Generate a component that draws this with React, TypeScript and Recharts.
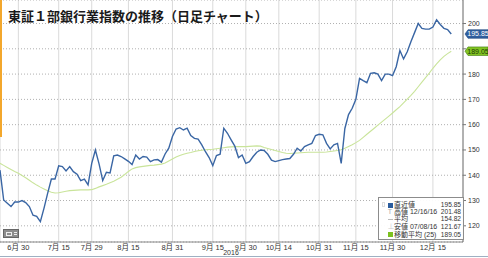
import React from 'react';
import { ComposedChart, Line, XAxis, YAxis, CartesianGrid, ReferenceLine } from 'recharts';

const dates: string[] = [
  '06/23', '06/24', '06/27', '06/28', '06/29', '06/30',
  '07/01', '07/04', '07/05', '07/06', '07/07', '07/08', '07/11', '07/12', '07/13', '07/14', '07/15',
  '07/19', '07/20', '07/21', '07/22', '07/25', '07/26', '07/27', '07/28', '07/29',
  '08/01', '08/02', '08/03', '08/04', '08/05', '08/08', '08/09', '08/10', '08/12', '08/15',
  '08/16', '08/17', '08/18', '08/19', '08/22', '08/23', '08/24', '08/25', '08/26', '08/29', '08/30', '08/31',
  '09/01', '09/02', '09/05', '09/06', '09/07', '09/08', '09/09', '09/12', '09/13', '09/14', '09/15',
  '09/16', '09/20', '09/21', '09/23', '09/26', '09/27', '09/28', '09/29', '09/30',
  '10/03', '10/04', '10/05', '10/06', '10/07', '10/11', '10/12', '10/13', '10/14',
  '10/17', '10/18', '10/19', '10/20', '10/21', '10/24', '10/25', '10/26', '10/27', '10/28', '10/31',
  '11/01', '11/02', '11/04', '11/07', '11/08', '11/09', '11/10', '11/11', '11/14', '11/15',
  '11/16', '11/17', '11/18', '11/21', '11/22', '11/24', '11/25', '11/28', '11/29', '11/30',
  '12/01', '12/02', '12/05', '12/06', '12/07', '12/08', '12/09', '12/12', '12/13', '12/14', '12/15',
  '12/16', '12/19', '12/20', '12/21', '12/22',
];

const closeValues: number[] = [
  142.0, 130.2, 128.9, 127.6, 129.4, 129.4,
  130.0, 129.2, 127.6, 124.2, 123.7, 121.67, 127.0, 132.9, 138.5, 138.5, 143.7,
  143.4, 141.7, 143.4, 141.4, 140.4, 137.9, 138.5, 136.2, 144.7,
  150.0, 144.5, 137.9, 141.2, 140.9, 147.7, 148.0, 147.4, 146.5, 145.5,
  144.2, 148.0, 146.4, 147.4, 147.2, 145.4, 146.1, 146.2, 145.2, 148.4, 150.7, 155.3,
  158.3, 158.8, 157.9, 158.6, 155.7, 154.6, 154.3, 152.0, 149.3, 147.0, 143.8,
  147.8, 148.3, 158.6, 156.6, 154.0, 151.5, 147.0, 148.0, 144.7,
  145.4, 147.4, 149.1, 150.0, 149.8, 148.3, 146.0, 145.4, 145.8,
  146.2, 146.4, 146.6, 148.3, 150.7, 149.6, 151.3, 152.0, 152.6, 155.7, 156.2,
  156.0, 152.6, 150.4, 152.0, 152.6, 144.7, 158.5, 164.0, 166.5, 170.0,
  178.3, 177.4, 176.6, 180.3, 180.5, 180.0, 177.4, 180.0, 180.0, 179.4,
  182.9, 189.3, 186.0, 188.8, 192.8, 196.4, 200.0, 198.1, 197.8, 197.8, 198.6,
  201.48, 199.6, 198.1, 197.6, 195.85,
];

const ma25Values: number[] = [
  144.7, 143.9, 143.1, 142.3, 141.5, 140.8,
  139.9, 139.0, 138.0, 137.0, 136.1, 135.3, 134.6, 133.9, 133.3, 133.0, 133.1,
  133.4, 133.7, 133.9, 134.0, 134.1, 134.2, 134.2, 134.2, 134.3,
  134.8, 135.4, 135.9, 136.4, 137.0, 137.6, 138.4, 139.2, 140.3, 141.5,
  142.5, 143.0, 143.3, 143.5, 143.7, 143.9, 144.0, 144.2, 144.4, 144.8, 145.6, 146.4,
  147.2, 147.8, 148.3, 148.7, 149.0, 149.4, 149.7, 149.9, 150.1, 150.2, 150.3,
  150.5, 150.7, 150.9, 151.1, 151.2, 151.3, 151.3, 151.3, 151.3,
  151.4, 151.5, 151.6, 151.5, 151.0, 150.6, 150.2, 149.8, 149.4,
  149.0, 148.7, 148.6, 148.7, 148.8, 148.9, 149.0, 149.1, 149.1, 149.1, 149.1,
  149.1, 149.2, 149.4, 149.6, 149.8, 150.1, 150.7, 151.4, 152.1, 152.9,
  153.8, 155.0, 156.2, 157.4, 158.6, 159.8, 161.0, 162.2, 163.4, 164.6,
  165.9, 167.1, 168.6, 170.1, 171.6, 173.2, 175.0, 176.8, 178.6, 180.4, 182.3,
  184.0, 185.6, 187.0, 188.1, 189.05,
];

const tickDates: string[] = ['06/30', '07/15', '07/29', '08/15', '08/31', '09/15', '09/30', '10/14', '10/31', '11/15', '11/30', '12/15'];
const tickLabels: string[] = ['6月 30', '7月 15', '7月 29', '8月 15', '8月 31', '9月 15', '9月 30', '10月 14', '10月 31', '11月 15', '11月 30', '12月 15'];
const yTicks: number[] = [120, 130, 140, 150, 160, 170, 180, 190, 200];

const legendLabels: string[] = ['直近値', '高値 12/16/16', '平均', '安値 07/08/16', '移動平均 (25)'];
const legendValues: string[] = ['195.85', '201.48', '154.82', '121.67', '189.05'];

const TITLE = '東証１部銀行業指数の推移（日足チャート）';
const YEAR = '2016';

const BLUE = '#3a66a4';
const MA_GREEN = '#c9e49a';

const data = dates.map((d, i) => ({ i, date: d, close: closeValues[i], ma: ma25Values[i] }));
const xTicks = tickDates.map((d) => dates.indexOf(d));
const lastClose = closeValues[closeValues.length - 1];
const lastMa = ma25Values[ma25Values.length - 1];

const FONT = '"Liberation Sans", "Noto Sans CJK JP", sans-serif';

const XTick = (props: any) => {
  const { x, y, payload } = props;
  const k = xTicks.indexOf(payload.value);
  return (
    <text x={x} y={y + 7.5} textAnchor="middle" fontSize={7.5} fill="#333" fontFamily={FONT}>
      {k >= 0 ? tickLabels[k] : ''}
    </text>
  );
};

const makeTag = (text: string, fill: string, textFill: string, edge: string) => (props: any) => {
  const vb = props.viewBox || {};
  const x = (vb.x || 0) + (vb.width || 0);
  const y = vb.y || 0;
  const pts = `${x + 2},${y} ${x + 5},${y - 4.3} ${x + 25},${y - 4.3} ${x + 25},${y + 4.3} ${x + 5},${y + 4.3}`;
  return (
    <g>
      <polygon points={pts} fill={fill} stroke={edge} strokeWidth={0.6} />
      <text x={x + 15} y={y} dy="0.35em" textAnchor="middle" fontSize={7} fill={textFill} fontFamily={FONT}>
        {text}
      </text>
    </g>
  );
};

const legendMarkers = [
  <span style={{ display: 'inline-block', width: 5, height: 5, background: '#2b5c9c' }} />,
  <span style={{ display: 'inline-block', width: 5, height: 6, color: '#aaa', fontSize: 7, lineHeight: '6px', textAlign: 'center' }}>T</span>,
  <span style={{ display: 'inline-block', width: 5, height: 1, background: '#bbb' }} />,
  <span style={{ display: 'inline-block', width: 5, height: 6, color: '#ccc', fontSize: 7, lineHeight: '6px', textAlign: 'center' }}>⊥</span>,
  <span style={{ display: 'inline-block', width: 5, height: 5, background: '#7cc11f' }} />,
];

const rowCenters = [7.3, 14.3, 21.3, 29, 36.6];

export default function App() {
  return (
    <div style={{ position: 'absolute', left: 0, top: 0, width: 488, height: 258, background: '#fff', overflow: 'hidden', fontFamily: FONT }}>
      <ComposedChart width={488} height={258} data={data} margin={{ top: 0, right: 0, left: 0, bottom: 0 }}>
        <CartesianGrid horizontal={false} stroke="#dadada" strokeWidth={1} />
        <CartesianGrid vertical={false} stroke="#b0b0b0" strokeDasharray="1 2" />
        <XAxis
          dataKey="i"
          type="number"
          domain={[0, 126.2]}
          ticks={xTicks}
          interval={0}
          height={16}
          tickSize={0}
          tickMargin={0}
          tick={<XTick />}
          axisLine={{ stroke: '#888' }}
          allowDataOverflow
        />
        <YAxis
          orientation="right"
          domain={[113.6, 209.3]}
          ticks={yTicks}
          interval={0}
          width={25}
          tickSize={3}
          tickMargin={2}
          tick={{ fontSize: 7, fill: '#333', fontFamily: FONT }}
          tickFormatter={(v: number) => (v === 190 ? '' : String(v))}
          axisLine={{ stroke: '#777' }}
          tickLine={{ stroke: '#777' }}
          allowDataOverflow
        />
        <Line type="linear" dataKey="ma" stroke={MA_GREEN} strokeWidth={1.1} dot={false} isAnimationActive={false} />
        <Line type="linear" dataKey="close" stroke={BLUE} strokeWidth={1.4} dot={false} isAnimationActive={false} />
        <ReferenceLine y={lastMa} stroke="none" label={makeTag(lastMa.toFixed(2), '#82c423', '#1d3a05', '#3f7a0c')} />
        <ReferenceLine y={lastClose} stroke="none" label={makeTag(lastClose.toFixed(2), '#2f5e9e', '#fff', '#234a80')} />
      </ComposedChart>

      <div style={{ position: 'absolute', left: 0, top: 0, width: 2, height: 137, background: '#f3a72c' }} />
      <div style={{ position: 'absolute', left: 0, top: 256, width: 488, height: 1, background: '#9fb0c2' }} />

      <div style={{ position: 'absolute', left: 8, top: 9, fontSize: 13, lineHeight: '14px', fontWeight: 'bold', color: '#1a1a1a', fontFamily: '"Noto Sans CJK JP", sans-serif', whiteSpace: 'nowrap' }}>
        {TITLE}
      </div>

      <div style={{ position: 'absolute', left: 221, top: 249, width: 20, textAlign: 'center', fontSize: 7, lineHeight: '8px', color: '#333' }}>
        {YEAR}
      </div>

      <div style={{ position: 'absolute', left: 3, top: 229, width: 16, height: 9, background: '#8d8d8d', border: '1px solid #666', boxSizing: 'border-box' }}>
        <div style={{ position: 'absolute', left: 2, top: 1.5, width: 6, height: 4, border: '1px solid #eee', boxSizing: 'border-box' }} />
        <div style={{ position: 'absolute', left: 10, top: 2, width: 3, height: 3, borderTop: '1px solid #eee', borderBottom: '1px solid #eee', boxSizing: 'border-box' }} />
      </div>

      <div style={{ position: 'absolute', left: 378, top: 197, width: 86, height: 43, border: '1px solid #8c8c8c', background: 'rgba(255,255,255,0.95)', boxSizing: 'border-box' }}>
        <div style={{ position: 'absolute', left: 3, top: 4, width: 3, height: 5, border: '1px solid #ddd', boxSizing: 'border-box' }} />
        {legendLabels.map((lab, k) => (
          <div key={k} style={{ position: 'absolute', left: 0, right: 0, top: rowCenters[k] - 4, height: 8, lineHeight: '8px', color: '#333', whiteSpace: 'nowrap' }}>
            <span style={{ position: 'absolute', left: 8, top: 1, width: 6, height: 6, display: 'flex', alignItems: 'center', justifyContent: 'center' }}>
              {legendMarkers[k]}
            </span>
            <span style={{ position: 'absolute', left: 15, fontSize: 7 }}>{lab}</span>
            <span style={{ position: 'absolute', right: 2, fontSize: 6.6 }}>{legendValues[k]}</span>
          </div>
        ))}
      </div>
    </div>
  );
}
